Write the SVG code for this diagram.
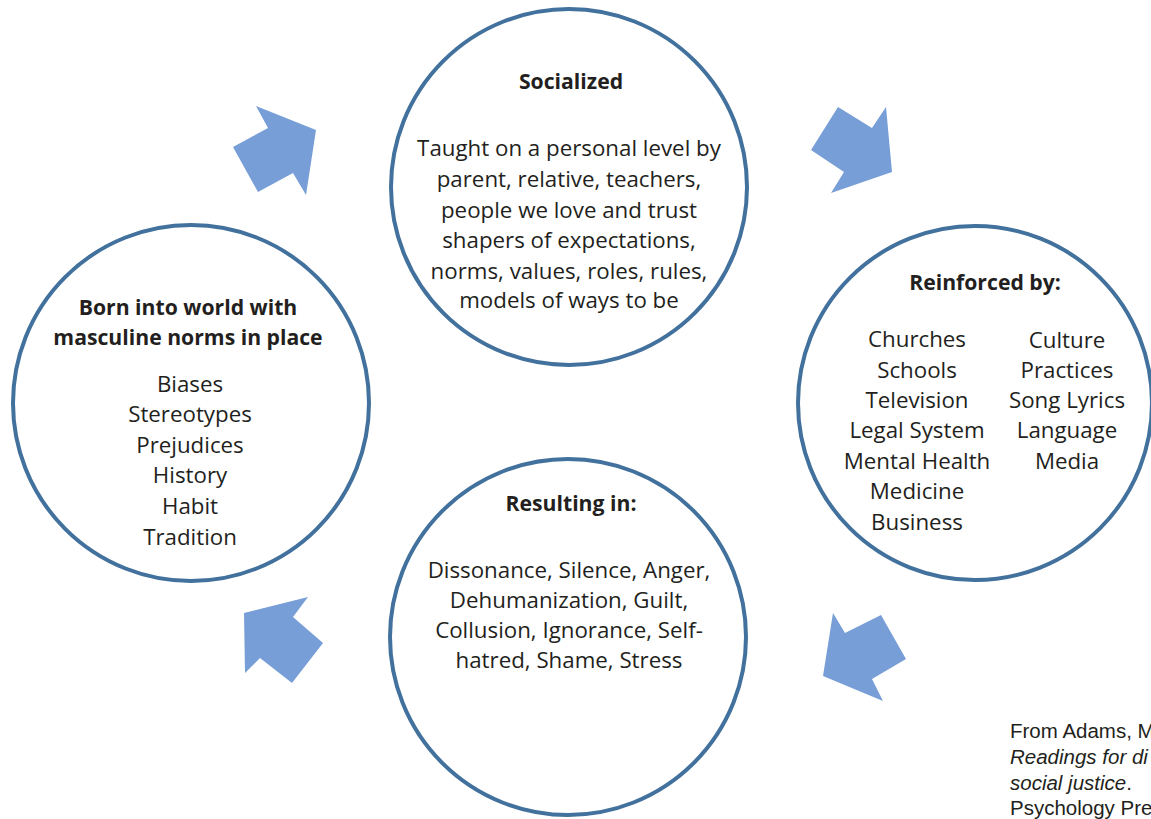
<svg xmlns="http://www.w3.org/2000/svg" width="1151" height="819" viewBox="0 0 1151 819">
<style>
.c{fill:#fff;stroke:#41719c;stroke-width:4}
.t{font-family:"Open Sans","Noto Sans","Liberation Sans",sans-serif;font-size:22.3px;fill:#231f20;text-anchor:middle}
.b{font-weight:bold;font-size:21.2px}
.a{fill:#779ed6}
.cit{font-family:"Liberation Sans",Arial,sans-serif;font-size:20.5px;fill:#231f20}
</style>
<rect width="1151" height="819" fill="#fff"/>
<g id="connectors">
<polygon class="a" points="316,130 256,106 268,128 233,147 258,192 293,173 306,195"/>
<polygon class="a" points="838,107 872,128 886,107 892,172 831,193 844,172 811,150"/>
<polygon class="a" points="833,613 845,633 881,615 906,659 872,679 883,701 823,676"/>
<polygon class="a" points="244,613 308,597 293,617 323,643 292,683 260,658 245,673"/>
</g>
<g id="socialized">
<circle class="c" cx="569" cy="187" r="178"/>
<text class="t b" x="571" y="89">Socialized</text>
<text class="t" x="569" y="156">Taught on a personal level by</text>
<text class="t" x="569" y="187">parent, relative, teachers,</text>
<text class="t" x="569" y="218">people we love and trust</text>
<text class="t" x="569" y="248">shapers of expectations,</text>
<text class="t" x="569" y="279">norms, values, roles, rules,</text>
<text class="t" x="569" y="308">models of ways to be</text>
</g>
<g id="born">
<circle class="c" cx="191" cy="403" r="178"/>
<text class="t b" x="188" y="315">Born into world with</text>
<text class="t b" x="188" y="345">masculine norms in place</text>
<text class="t" x="190" y="392">Biases</text>
<text class="t" x="190" y="422">Stereotypes</text>
<text class="t" x="190" y="453">Prejudices</text>
<text class="t" x="190" y="483">History</text>
<text class="t" x="190" y="514">Habit</text>
<text class="t" x="190" y="545">Tradition</text>
</g>
<g id="reinforced">
<circle class="c" cx="975" cy="403" r="177"/>
<text class="t b" x="985" y="290">Reinforced by:</text>
<text class="t" x="917" y="347">Churches</text>
<text class="t" x="917" y="378">Schools</text>
<text class="t" x="917" y="408">Television</text>
<text class="t" x="917" y="438">Legal System</text>
<text class="t" x="917" y="469">Mental Health</text>
<text class="t" x="917" y="499">Medicine</text>
<text class="t" x="917" y="530">Business</text>
<text class="t" x="1067" y="348">Culture</text>
<text class="t" x="1067" y="378">Practices</text>
<text class="t" x="1067" y="408">Song Lyrics</text>
<text class="t" x="1067" y="438">Language</text>
<text class="t" x="1067" y="469">Media</text>
</g>
<g id="resulting">
<circle class="c" cx="568" cy="637" r="178"/>
<text class="t b" x="571" y="511">Resulting in:</text>
<text class="t" x="569" y="578">Dissonance, Silence, Anger,</text>
<text class="t" x="569" y="608">Dehumanization, Guilt,</text>
<text class="t" x="569" y="638">Collusion, Ignorance, Self-</text>
<text class="t" x="569" y="668">hatred, Shame, Stress</text>
</g>
<g id="citation">
<text class="cit" x="1010" y="738">From Adams, M</text>
<text class="cit" x="1010" y="764" font-style="italic">Readings for di</text>
<text class="cit" x="1010" y="790"><tspan font-style="italic">social justice</tspan>.</text>
<text class="cit" x="1010" y="815">Psychology Pre</text>
</g>
</svg>
